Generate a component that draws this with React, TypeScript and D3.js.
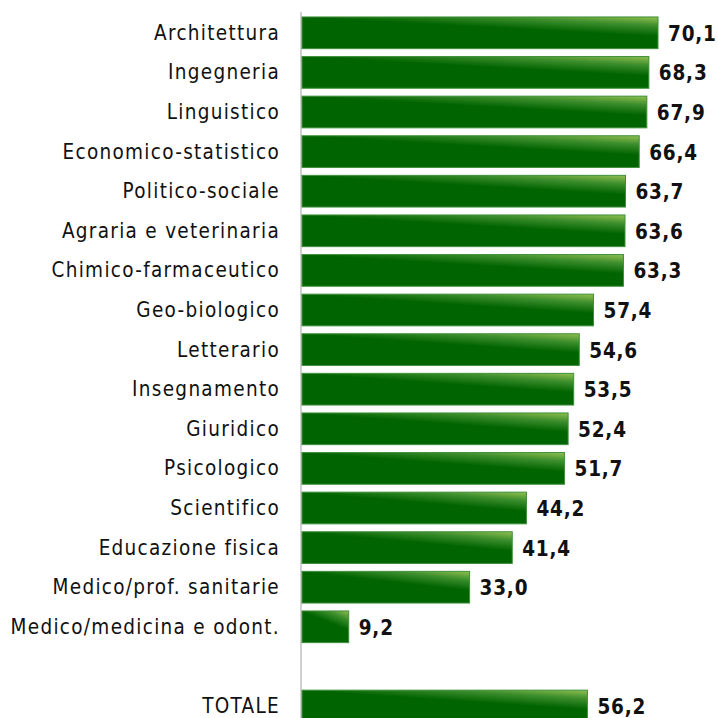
import React from "react";
import * as d3 from "d3";

const categories = [
  "Architettura",
  "Ingegneria",
  "Linguistico",
  "Economico-statistico",
  "Politico-sociale",
  "Agraria e veterinaria",
  "Chimico-farmaceutico",
  "Geo-biologico",
  "Letterario",
  "Insegnamento",
  "Giuridico",
  "Psicologico",
  "Scientifico",
  "Educazione fisica",
  "Medico/prof. sanitarie",
  "Medico/medicina e odont.",
  "",
  "TOTALE",
];
const values: (number | null)[] = [
  70.1, 68.3, 67.9, 66.4, 63.7, 63.6, 63.3, 57.4, 54.6, 53.5, 52.4, 51.7, 44.2, 41.4, 33.0, 9.2, null, 56.2,
];

const W = 718;
const H = 718;
const x0 = 302;

export default function App() {
  const x = d3.scaleLinear().domain([0, 70.1]).range([x0, 658]);
  const y = d3
    .scaleBand<number>()
    .domain(d3.range(categories.length))
    .range([13, 13 + 39.6 * categories.length])
    .paddingInner(0.2)
    .paddingOuter(0.1);
  const fmt = (v: number) => v.toFixed(1).replace(".", ",");
  const font = "'DejaVu Sans Condensed', 'DejaVu Sans', sans-serif";
  return (
    <svg width={W} height={H} style={{ position: "absolute", left: 0, top: 0, background: "#fff" }}>
      <defs>
        <linearGradient id="g" x1="0.4" y1="1" x2="1" y2="0">
          <stop offset="0" stopColor="#006400" />
          <stop offset="0.55" stopColor="#006400" />
          <stop offset="0.8" stopColor="#3f8f2e" />
          <stop offset="1" stopColor="#92c050" />
        </linearGradient>
      </defs>
      <line x1={x0 - 1} x2={x0 - 1} y1={12} y2={H} stroke="#d0d0d0" strokeWidth={2} />
      {values.map((v, i) => {
        if (v === null) return null;
        const yy = y(i)!;
        const bh = y.bandwidth();
        return (
          <g key={i}>
            <rect x={x0} y={yy} width={x(v) - x0} height={bh} fill="url(#g)" stroke="#3f8f3a" strokeWidth={1} />
            <text
              x={x(v) + 10}
              y={yy + bh / 2 + 2}
              dominantBaseline="middle"
              fontFamily={font}
              fontWeight="bold"
              fontSize={20.5}
              letterSpacing={0.8}
              fill="#111"
            >
              {fmt(v)}
            </text>
          </g>
        );
      })}
      {categories.map((c, i) => (
        <text
          key={"l" + i}
          x={280}
          y={y(i)! + y.bandwidth() / 2 + 1}
          textAnchor="end"
          dominantBaseline="middle"
          fontFamily={font}
          fontSize={20.5}
          letterSpacing={1.3}
          fill="#111"
        >
          {c}
        </text>
      ))}
    </svg>
  );
}
